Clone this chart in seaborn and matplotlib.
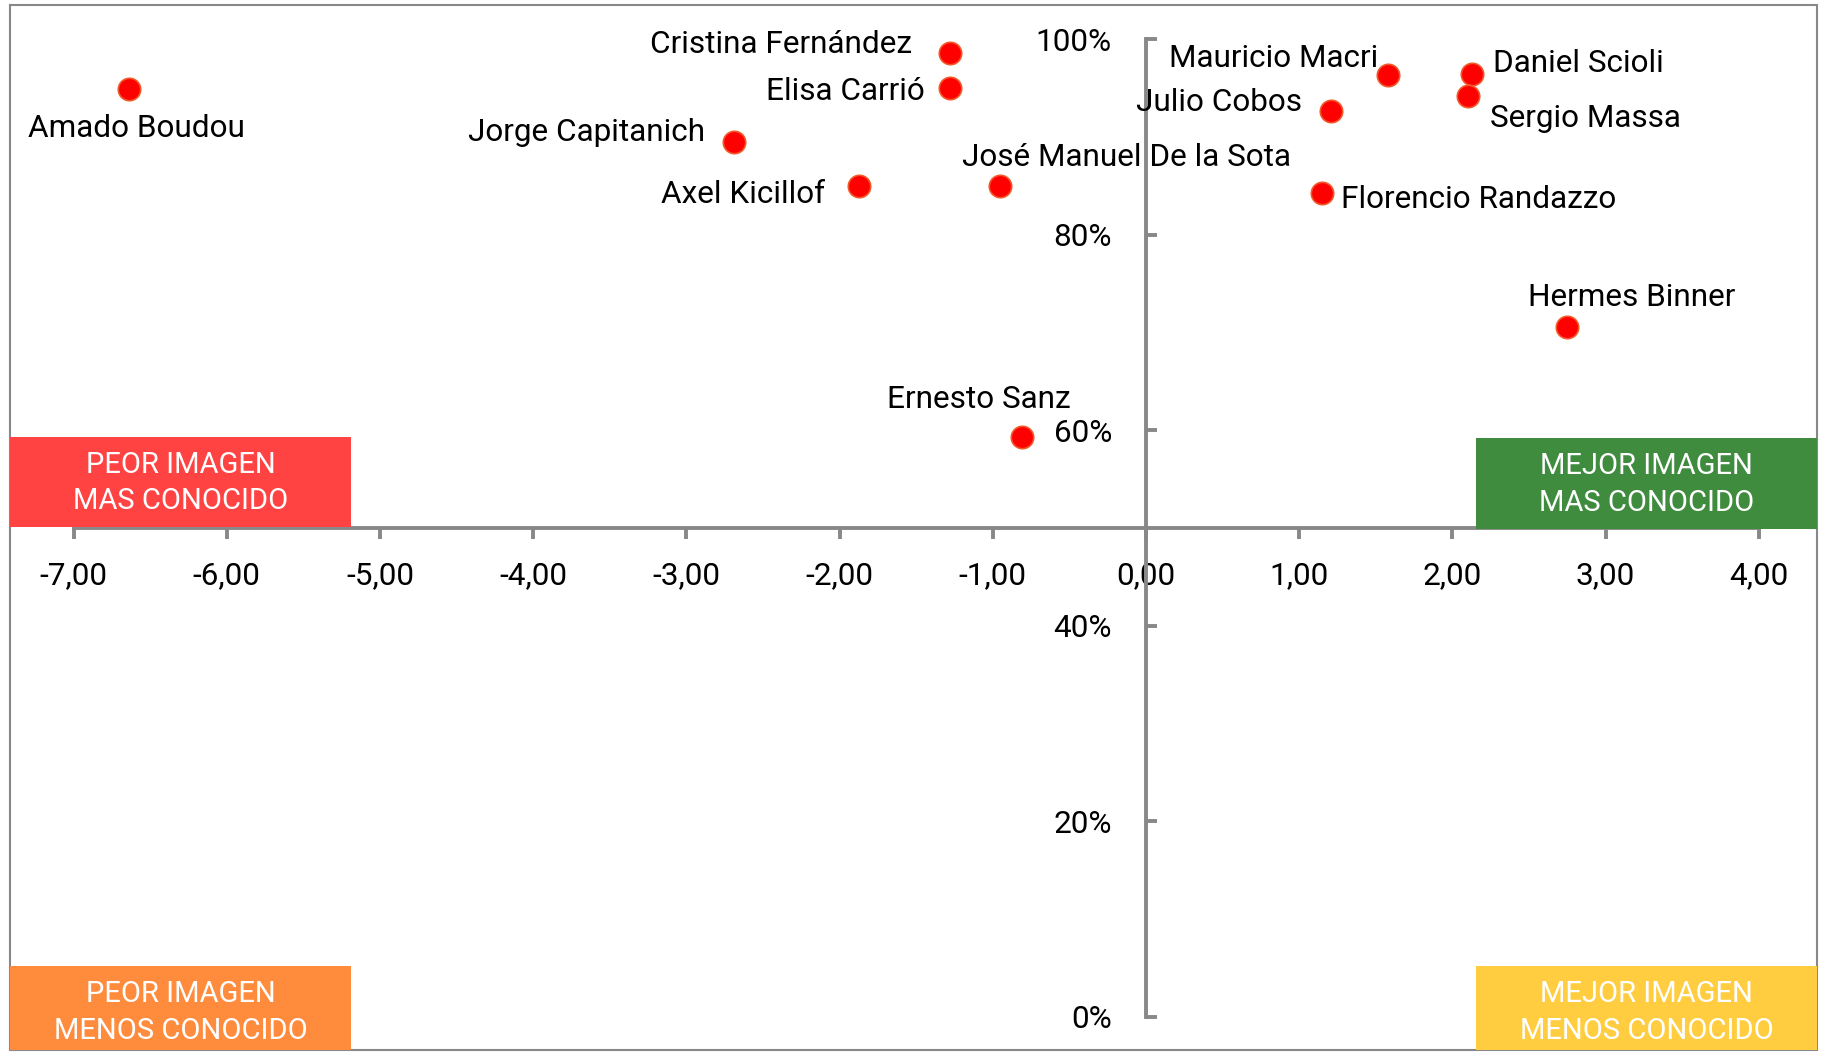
import matplotlib
matplotlib.use("Agg")
import matplotlib.pyplot as plt
from matplotlib.patches import Rectangle
import seaborn as sns

# data: image balance (x) vs. share who know the person (y, %)
names = ["Amado Boudou", "Cristina Fernández", "Elisa Carrió", "Jorge Capitanich",
         "Axel Kicillof", "José Manuel De la Sota", "Ernesto Sanz", "Mauricio Macri",
         "Julio Cobos", "Florencio Randazzo", "Daniel Scioli", "Sergio Massa",
         "Hermes Binner"]
imagen = [-6.64, -1.28, -1.28, -2.69, -1.87, -0.95, -0.81, 1.58, 1.21, 1.15, 2.13, 2.10, 2.75]
conocimiento = [94.9, 98.6, 95.05, 89.5, 85.0, 85.0, 59.3, 96.35, 92.7, 84.25, 96.45, 94.2, 70.6]

x_ticks = [-7, -6, -5, -4, -3, -2, -1, 0, 1, 2, 3, 4]
y_ticks = [0, 20, 40, 60, 80, 100]

quadrants = [
    ("PEOR IMAGEN\nMAS CONOCIDO", "#FF4343"),
    ("MEJOR IMAGEN\nMAS CONOCIDO", "#3F8C3F"),
    ("PEOR IMAGEN\nMENOS CONOCIDO", "#FF8B3D"),
    ("MEJOR IMAGEN\nMENOS CONOCIDO", "#FFCD3F"),
]

# label placement: (dx px, dy px to baseline, ha)
label_pos = [(-101, -48, "left"), (-38, 0, "right"), (-25, -12, "right"),
             (-29, 1, "right"), (-34, -17, "right"), (-38, 20, "left"),
             (-43, 29, "center"), (-10, 8, "right"), (-29, 0, "right"),
             (19, -15, "left"), (21, 2, "left"), (22, -31, "left"),
             (64, 21, "center")]

sns.set_style("white")
plt.rcParams["font.family"] = ["Roboto", "DejaVu Sans"]

fig = plt.figure(figsize=(18.25, 10.52), dpi=100)
ax = fig.add_axes([10 / 1825, 2 / 1052, 1807 / 1825, 1045 / 1052])
ax.set_xlim(-7.415, 4.38)
ax.set_ylim(-3.38, 103.5)

gray = "#888888"
for side in ["top", "right"]:
    ax.spines[side].set_visible(False)
ax.spines["left"].set_position(("data", 0))
ax.spines["bottom"].set_position(("data", 50))
ax.spines["left"].set_bounds(0, 100)
ax.spines["bottom"].set_bounds(-7, 4)
for side in ["left", "bottom"]:
    ax.spines[side].set_color(gray)
    ax.spines[side].set_linewidth(2.8)
    ax.spines[side].set_zorder(1)

ax.set_xticks(x_ticks)
ax.set_xticklabels([f"{v:.2f}".replace(".", ",") for v in x_ticks])
ax.set_yticks(y_ticks)
ax.set_yticklabels([f"{v}%" for v in y_ticks])
ax.tick_params(axis="x", bottom=True, direction="out", length=8, width=2.8, color=gray,
               labelsize=22.7, pad=16, labelcolor="black")
ax.tick_params(axis="y", left=True, direction="in", length=8, width=2.8, color=gray,
               labelsize=22.7, pad=24.5, labelcolor="black")
ax.set_xlabel("")
ax.set_ylabel("")

# outer frame
ax.add_patch(Rectangle((0, 0), 1, 1, transform=ax.transAxes, fill=False,
                       edgecolor=gray, linewidth=1.5, clip_on=False, zorder=0))

# corner boxes
box_w = 0.1887
box_spec = [(0, 0.5005, 0.0865), (1 - box_w, 0.499, 0.0865), (0, 0, 0.080), (1 - box_w, 0, 0.080)]
for (txt, col), (x0, y0, h) in zip(quadrants, box_spec):
    ax.add_patch(Rectangle((x0, y0), box_w, h, transform=ax.transAxes, facecolor=col,
                           edgecolor="none", zorder=2, clip_on=False))
    ax.text(x0 + box_w / 2, y0 + h / 2 - (0.004 if y0 == 0 else 0.001), txt,
            transform=ax.transAxes, ha="center", va="center", color="white",
            fontsize=21, linespacing=1.38, zorder=3)

sns.scatterplot(x=imagen, y=conocimiento, ax=ax, s=260, color="#FF0000",
                edgecolor="#F2592A", linewidth=1.2, zorder=4, legend=False)

for name, x, y, (dx, dy, ha) in zip(names, imagen, conocimiento, label_pos):
    ax.annotate(name, (x, y), xytext=(dx, dy), textcoords="offset pixels",
                ha=ha, va="baseline", fontsize=22.7, color="black", zorder=5)

fig.savefig("out.png", dpi=100)
